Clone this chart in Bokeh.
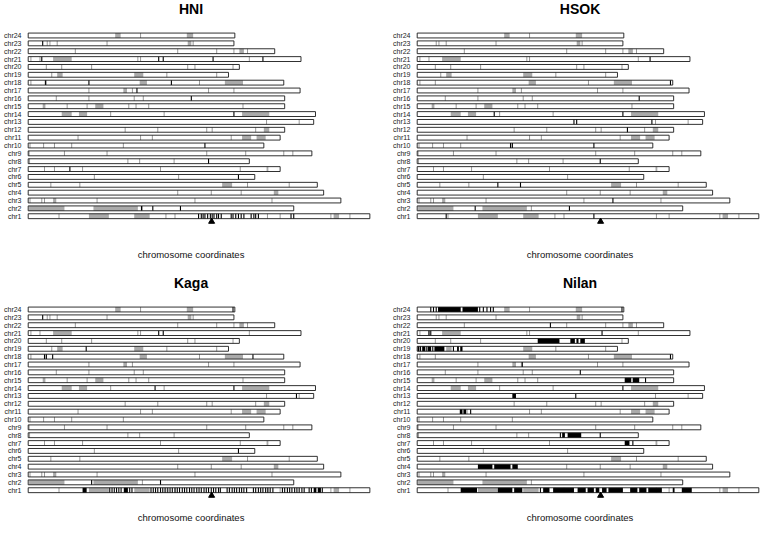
from bokeh.plotting import figure
from bokeh.layouts import column, row
from bokeh.models import Range1d, FixedTicker
from bokeh.core.properties import value
from bokeh.embed import file_html
from bokeh.resources import INLINE

FONT = "Liberation Sans"

CHROMS = ["chr%d" % i for i in range(1, 25)]
# chromosome lengths (Mb), chr1 .. chr24
CHROM_LEN = [37.7, 29.3, 34.5, 32.6, 31.9, 25.0, 27.8, 24.4, 31.3, 26.0, 27.8, 28.3,
             31.5, 31.7, 28.3, 28.3, 30.0, 28.2, 22.1, 23.3, 30.1, 27.2, 22.7, 22.8]

# gray shaded regions, common to all lines
GRAY_REGIONS = {
    "chr1": [(6.7, 8.9), (11.7, 13.4), (33.7, 34.3)],
    "chr2": [(0.1, 4.0), (7.2, 12.1)],
    "chr3": [(2.75, 3.1)],
    "chr4": [(27.1, 27.6)],
    "chr5": [(21.4, 22.5)],
    "chr7": [(26.3, 26.5)],
    "chr11": [(23.6, 24.6), (25.2, 26.2)],
    "chr12": [(26.0, 26.6)],
    "chr14": [(3.7, 4.8), (5.6, 6.5), (23.6, 26.6)],
    "chr15": [(1.6, 1.9), (7.4, 8.3)],
    "chr17": [(10.5, 10.9)],
    "chr18": [(12.3, 13.1), (21.7, 23.7)],
    "chr19": [(3.2, 3.8), (11.7, 12.7)],
    "chr21": [(2.75, 4.8)],
    "chr22": [(23.3, 23.8)],
    "chr23": [(17.6, 18.0)],
    "chr24": [(9.6, 10.2), (17.5, 18.2)],
}

# thin gray marks, common to all lines
GRAY_LINES = {
    "chr1": [3.4, 15.2, 16.2, 26.4, 27.8, 33.4, 35.5],
    "chr2": [12.6],
    "chr3": [0.2, 1.5, 1.8, 7.6, 18.4, 26.9],
    "chr4": [16.5, 20.2, 23.5],
    "chr5": [2.5, 5.7, 24.2, 28.8],
    "chr6": [7.3, 16.6],
    "chr7": [1.8, 2.9, 6.0, 14.6, 23.4],
    "chr8": [0.15, 11.0, 12.3, 16.1],
    "chr9": [0.1, 4.0, 8.7, 19.7, 24.0, 28.2, 29.2],
    "chr10": [0.2, 1.7, 2.9, 4.8, 10.5],
    "chr11": [5.5, 12.4, 13.7, 22.4],
    "chr12": [10.7, 14.3, 19.7, 20.3, 25.1],
    "chr13": [26.3, 29.9],
    "chr14": [9.1, 15.0],
    "chr15": [4.3, 6.5, 11.1, 11.9, 13.3, 23.7],
    "chr16": [3.1, 6.7, 11.7, 12.7],
    "chr17": [6.7, 11.5, 19.9, 22.7],
    "chr18": [0.3, 2.0, 18.9],
    "chr19": [2.6, 15.3, 20.8],
    "chr20": [2.0, 3.7, 7.0, 17.6, 18.4, 22.6],
    "chr21": [0.3, 1.3, 12.1, 12.4, 24.4],
    "chr22": [5.2, 16.5, 20.8, 22.7, 24.2],
    "chr23": [2.1, 2.4, 3.2, 8.7, 18.2],
    "chr24": [12.4],
}

# black marks per line
HNI_TICKS = {
    "chr1": [18.8, 19.1, 19.3, 19.5, 19.8, 20.1, 20.3, 20.5, 20.8, 21.0, 21.3, 22.4, 22.6,
             22.9, 23.2, 23.5, 23.8, 24.6, 24.9, 25.1, 25.4, 29.0, 29.3],
    "chr2": [12.5, 13.75, 16.8],
    "chr6": [23.2],
    "chr7": [4.6],
    "chr8": [19.9],
    "chr10": [19.5],
    "chr14": [22.7],
    "chr16": [18.0],
    "chr17": [12.0],
    "chr18": [1.9, 6.7, 15.8],
    "chr21": [1.5, 14.4, 14.9, 20.4, 25.9],
    "chr23": [1.6],
}
HSOK_TICKS = {
    "chr1": [3.2, 19.5],
    "chr2": [6.4, 16.8],
    "chr3": [21.6],
    "chr5": [8.9, 11.4],
    "chr8": [20.2],
    "chr10": [10.3, 10.5, 19.5],
    "chr12": [23.2],
    "chr13": [17.3, 17.6, 25.9],
    "chr14": [8.5, 22.7],
    "chr16": [24.5],
    "chr18": [27.95],
    "chr21": [25.7],
}
KAGA_TICKS = {
    "chr1": [9.0, 9.25, 9.5, 9.75, 10.0, 10.25, 11.2, 11.45, 13.55, 13.8, 14.05, 14.3,
             14.6, 14.85, 15.1, 15.4, 15.65, 15.9, 16.2, 16.45, 16.7, 17.0, 17.25, 17.5,
             17.8, 18.05, 18.3, 18.6, 18.85, 19.1, 19.4, 19.65, 19.9, 20.2, 20.45, 20.7,
             21.0, 21.2, 21.95, 22.2, 22.5, 22.75, 23.0, 23.3, 23.55, 23.8, 24.1, 24.85,
             25.1, 25.4, 25.65, 25.9, 26.2, 26.45, 26.7, 27.0, 28.05, 28.3, 28.6, 28.85,
             29.1, 29.4, 29.65, 29.9, 30.2, 30.45, 31.0, 31.25, 32.45],
    "chr2": [7.0, 14.6],
    "chr6": [23.2],
    "chr13": [29.6],
    "chr14": [14.0, 22.7],
    "chr18": [1.8, 2.0, 2.7, 24.8],
    "chr19": [6.4],
    "chr21": [14.4, 14.9],
    "chr23": [1.6],
    "chr24": [22.6],
}
KAGA_BLOCKS = {
    "chr1": [(6.0, 6.45), (10.55, 11.0), (31.5, 31.8), (31.95, 32.3)],
}
NILAN_TICKS = {
    "chr1": [13.6],
    "chr7": [23.8],
    "chr8": [15.8, 20.2],
    "chr11": [5.9],
    "chr13": [17.5],
    "chr14": [22.7],
    "chr15": [25.2],
    "chr16": [18.0],
    "chr17": [11.6],
    "chr18": [27.95],
    "chr19": [0.37, 1.06, 1.72, 4.0],
    "chr21": [1.3, 1.5, 20.4],
    "chr22": [14.7],
    "chr24": [1.5, 1.8, 2.1, 6.9, 7.3, 7.7, 8.1, 8.4, 22.6],
}
NILAN_BLOCKS = {
    "chr1": [(4.8, 6.6), (8.9, 10.5), (10.7, 11.6), (13.9, 14.6), (15.0, 17.3),
             (17.7, 18.6), (18.8, 19.5), (19.7, 20.1), (20.4, 20.9), (21.1, 22.7),
             (23.5, 24.3), (24.5, 25.3), (25.5, 27.0), (28.2, 28.4), (29.2, 30.3)],
    "chr4": [(6.7, 8.3), (8.5, 10.3), (10.5, 11.1)],
    "chr7": [(22.9, 23.4)],
    "chr8": [(16.0, 16.3), (16.6, 18.1)],
    "chr11": [(4.7, 5.0), (5.1, 5.4)],
    "chr13": [(10.5, 10.9)],
    "chr15": [(22.9, 23.6), (23.8, 24.5)],
    "chr19": [(0.05, 0.25), (0.55, 0.9), (1.17, 1.54), (1.9, 3.0), (4.4, 4.6), (4.75, 5.0)],
    "chr20": [(13.3, 15.7), (16.9, 17.4), (17.6, 17.8), (18.0, 18.5)],
    "chr24": [(2.3, 4.8), (5.0, 6.7)],
}

MARKER_CHROM = "chr1"
MARKER_POS = 20.24
X_LABEL = "chromosome coordinates"

PANELS = [
    ("HNI", HNI_TICKS, {}),
    ("HSOK", HSOK_TICKS, {}),
    ("Kaga", KAGA_TICKS, KAGA_BLOCKS),
    ("Nilan", NILAN_TICKS, NILAN_BLOCKS),
]

HALF = 0.31
PX_X = 9.088      # pixels per Mb
PX_Y = 7.857      # pixels per chromosome row
BAR_X0 = 26.7     # pixel where bars start inside a panel
ROW24_Y = 35.0    # pixel of chr24 row from panel top


def ypos(name):
    return CHROMS.index(name) + 1


def make_panel(name, ticks, blocks, width, height, title_y, label_y):
    x0 = -(BAR_X0 - 24) / PX_X
    x1 = (width - BAR_X0) / PX_X
    ytop = 24 + ROW24_Y / PX_Y
    ybot = ytop - height / PX_Y
    p = figure(width=width, height=height, output_backend="svg", toolbar_location=None,
               x_range=Range1d(x0, x1), y_range=Range1d(ybot, ytop),
               min_border_left=24, min_border_right=0,
               min_border_top=0, min_border_bottom=0, title=None)
    p.outline_line_color = None
    p.grid.visible = False
    p.xaxis.visible = False
    p.background_fill_color = "white"
    ya = p.yaxis[0]
    ya.ticker = FixedTicker(ticks=list(range(1, 25)))
    ya.major_label_overrides = {i: CHROMS[i - 1] for i in range(1, 25)}
    ya.axis_line_color = None
    ya.major_tick_line_color = None
    ya.minor_tick_line_color = None
    ya.major_tick_out = 0
    ya.major_tick_in = 0
    ya.minor_tick_out = 0
    ya.minor_tick_in = 0
    ya.major_label_standoff = 4
    ya.major_label_text_font = FONT
    ya.major_label_text_font_size = "7px"
    ya.major_label_text_color = "#222222"

    ys = list(range(1, 25))
    # white bar bodies
    p.quad(left=[0] * 24, right=CHROM_LEN, bottom=[y - HALF for y in ys],
           top=[y + HALF for y in ys], fill_color="white", line_color=None)
    # gray regions
    gl, gr, gb, gt = [], [], [], []
    for c, regs in GRAY_REGIONS.items():
        for s, e in regs:
            gl.append(s); gr.append(e)
            gb.append(ypos(c) - HALF); gt.append(ypos(c) + HALF)
    p.quad(left=gl, right=gr, bottom=gb, top=gt, fill_color="#aaaaaa", line_color=None)
    # thin gray marks
    lx, ly0, ly1 = [], [], []
    for c, xs in GRAY_LINES.items():
        for x in xs:
            lx.append(x); ly0.append(ypos(c) - HALF); ly1.append(ypos(c) + HALF)
    p.segment(x0=lx, x1=lx, y0=ly0, y1=ly1, line_color="#999999", line_width=1)
    # black blocks
    bl, br, bb, bt = [], [], [], []
    for c, regs in blocks.items():
        for s, e in regs:
            bl.append(s); br.append(e)
            bb.append(ypos(c) - HALF); bt.append(ypos(c) + HALF)
    if bl:
        p.quad(left=bl, right=br, bottom=bb, top=bt, fill_color="black", line_color=None)
    # black marks
    kx, ky0, ky1 = [], [], []
    for c, xs in ticks.items():
        for x in xs:
            kx.append(x); ky0.append(ypos(c) - HALF); ky1.append(ypos(c) + HALF)
    p.segment(x0=kx, x1=kx, y0=ky0, y1=ky1, line_color="black", line_width=1.1)
    # outlines
    p.quad(left=[0] * 24, right=CHROM_LEN, bottom=[y - HALF for y in ys],
           top=[y + HALF for y in ys], fill_color=None, line_color="#1a1a1a", line_width=0.9)
    # marker
    p.scatter(x=[MARKER_POS], y=[ypos(MARKER_CHROM) - 0.68], marker="triangle",
              size=6, fill_color="black", line_color="black")
    # title and x-axis label, placed at pixel offsets inside the panel
    cx = (190 - BAR_X0) / PX_X
    p.text(x=[cx], y=[ytop - title_y / PX_Y], text=[name], text_align="center",
           text_baseline="middle", text_font=value(FONT), text_font_size="14px",
           text_font_style="bold", text_color="black")
    p.text(x=[cx], y=[ytop - label_y / PX_Y], text=[X_LABEL], text_align="center",
           text_baseline="middle", text_font=value(FONT), text_font_size="9.5px",
           text_color="#111111")
    return p


p1 = make_panel(PANELS[0][0], PANELS[0][1], PANELS[0][2], 389, 274, 8.5, 254)
p2 = make_panel(PANELS[1][0], PANELS[1][1], PANELS[1][2], 371, 274, 8.5, 254)
p3 = make_panel(PANELS[2][0], PANELS[2][1], PANELS[2][2], 389, 251, 8.5, 243)
p4 = make_panel(PANELS[3][0], PANELS[3][1], PANELS[3][2], 371, 251, 8.5, 243)

layout = column(row(p1, p2), row(p3, p4))

open("out.html", "w").write(file_html(layout, INLINE))
